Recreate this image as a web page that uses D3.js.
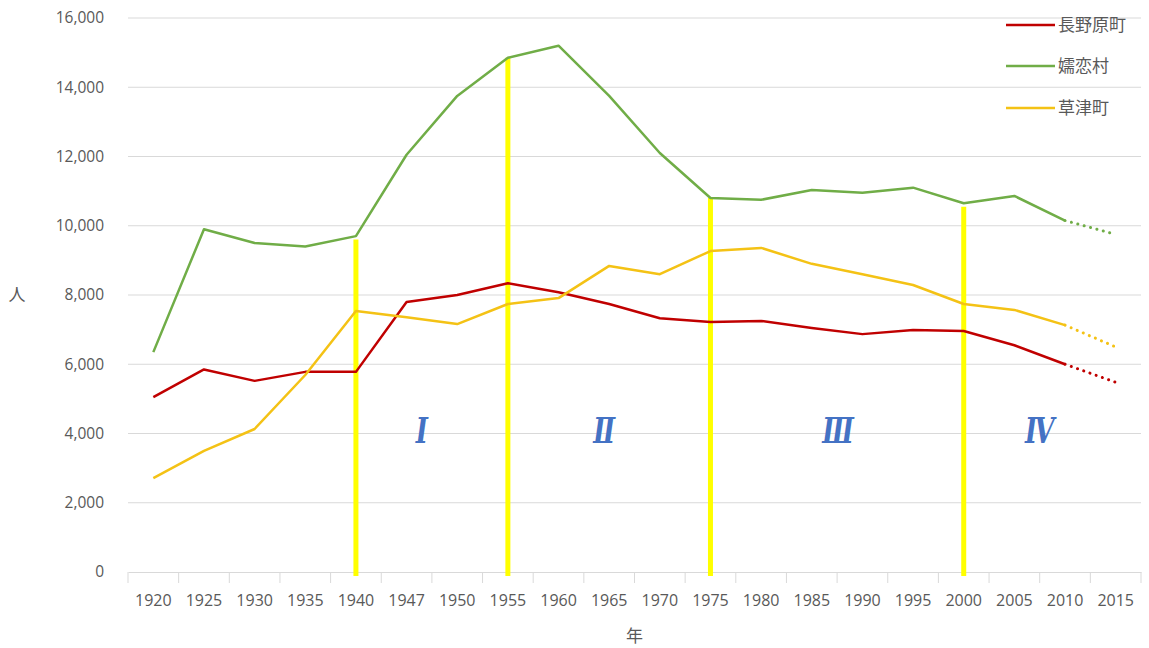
<!DOCTYPE html>
<html><head><meta charset="utf-8">
<script src="https://cdn.jsdelivr.net/npm/d3@7"></script>
<style>
html,body{margin:0;padding:0;background:#fff;}
svg{display:block;}
</style>
</head><body>
<svg id="chart" width="1149" height="648"></svg>
<script>
const years = ["1920","1925","1930","1935","1940","1947","1950","1955","1960","1965","1970","1975","1980","1985","1990","1995","2000","2005","2010","2015"];
const naganohara = [5050,5850,5520,5780,5780,7800,8000,8340,8080,7740,7330,7220,7250,7050,6870,6990,6960,6550,6000,5480];
const tsumagoi   = [6350,9900,9500,9400,9700,12050,13750,14850,15200,13750,12100,10800,10750,11030,10950,11100,10650,10860,10150,9750];
const kusatsu    = [2710,3500,4130,5690,7540,7360,7160,7740,7910,8840,8600,9270,9360,8900,8600,8290,7740,7570,7130,6500];
const seriesNames = ["長野原町","嬬恋村","草津町"];
const seriesColors = ["#C00000","#70AD47","#F4C215"];
const yTicks = [0,2000,4000,6000,8000,10000,12000,14000,16000];
const dividerYears = ["1940","1955","1975","2000"];
const dividerTops = [9600,14850,10800,10550];
const periodLabels = ["Ⅰ","Ⅱ","Ⅲ","Ⅳ"];
const periodYears = ["1947","1965","1990","2010"];
const periodOffsets = [0.3,-0.1,-0.48,-0.5];

const svg = d3.select("#chart");
const L = 128, R = 1141, T = 18, B = 572;
const x = d3.scaleBand().domain(years).range([L, R]).paddingInner(0).paddingOuter(0);
const y = d3.scaleLinear().domain([0,16000]).range([B, T]);
const cx = d => x(d) + x.bandwidth()/2;
const fontTick = "'Open Sans','Noto Sans',sans-serif";
const fontCJK = "'Noto Sans CJK JP','Noto Sans',sans-serif";

// gridlines
svg.append("g").selectAll("line").data(yTicks.filter(d=>d>0)).join("line")
  .attr("x1", L).attr("x2", R).attr("y1", d=>y(d)).attr("y2", d=>y(d))
  .attr("stroke", "#D9D9D9").attr("stroke-width", 1);

// y axis labels
const yAxis = d3.axisLeft(y).tickValues(yTicks).tickFormat(d3.format(",")).tickSize(0).tickPadding(24);
const gy = svg.append("g").attr("transform", `translate(${L},0)`).call(yAxis);
gy.select(".domain").remove();
gy.selectAll("text").attr("font-family", fontTick).attr("font-size", 15.5).attr("fill", "#595959");

// x axis
const xAxis = d3.axisBottom(x).tickSize(0).tickPadding(23);
const gx = svg.append("g").attr("transform", `translate(0,${B})`).call(xAxis);
gx.select(".domain").attr("stroke", "#D9D9D9");
gx.selectAll("text").attr("font-family", fontTick).attr("font-size", 16).attr("fill", "#595959");
// boundary ticks
const bounds = years.map(d => x(d)).concat([R]);
svg.append("g").selectAll("line").data(bounds).join("line")
  .attr("x1", d=>d).attr("x2", d=>d).attr("y1", B).attr("y2", B+11)
  .attr("stroke", "#D9D9D9").attr("stroke-width", 1);

// axis titles
svg.append("text").attr("x", 17).attr("y", y(8000)+6).attr("text-anchor","middle")
  .attr("font-family", fontCJK).attr("font-size", 17).attr("fill", "#595959").text("人");
svg.append("text").attr("x", (L+R)/2).attr("y", 642).attr("text-anchor","middle")
  .attr("font-family", fontCJK).attr("font-size", 17).attr("fill", "#595959").text("年");

// period dividers
svg.append("g").selectAll("line").data(dividerYears).join("line")
  .attr("x1", d=>cx(d)).attr("x2", d=>cx(d))
  .attr("y1", (d,i)=>y(dividerTops[i])).attr("y2", B+4)
  .attr("stroke", "#FFFF00").attr("stroke-width", 5);

// series lines
const allSeries = [naganohara, tsumagoi, kusatsu];
const line = d3.line().x(d=>cx(d.year)).y(d=>y(d.v));
allSeries.forEach((vals, si) => {
  const pts = years.map((yr,i)=>({year: yr, v: vals[i]}));
  const n = pts.length;
  svg.append("path").datum(pts.slice(0, n-1)).attr("d", line)
    .attr("fill","none").attr("stroke", seriesColors[si]).attr("stroke-width", 2.5)
    .attr("stroke-linejoin","round");
  svg.append("path").datum(pts.slice(n-2)).attr("d", line)
    .attr("fill","none").attr("stroke", seriesColors[si]).attr("stroke-width", 3)
    .attr("stroke-dasharray","0.1,6.5").attr("stroke-linecap","round");
});

// period labels
svg.append("g").selectAll("text").data(periodLabels).join("text")
  .attr("transform", (d,i)=>`translate(${cx(periodYears[i]) + periodOffsets[i]*x.bandwidth()},443) scale(0.72,1)`)
  .attr("text-anchor","middle")
  .attr("font-family", "'DejaVu Serif','Liberation Serif',serif")
  .attr("font-style","italic").attr("font-weight","bold")
  .attr("font-size", 36).attr("fill", "#4472C4").text(d=>d);

// legend
const lg = svg.append("g");
const legendY = [25, 66, 108];
seriesNames.forEach((nm, i) => {
  lg.append("line").attr("x1", 1006).attr("x2", 1055).attr("y1", legendY[i]).attr("y2", legendY[i])
    .attr("stroke", seriesColors[i]).attr("stroke-width", 2.5);
  lg.append("text").attr("x", 1058).attr("y", legendY[i]+6)
    .attr("font-family", fontCJK).attr("font-size", 17).attr("fill", "#595959").text(nm);
});
</script>
</body></html>
